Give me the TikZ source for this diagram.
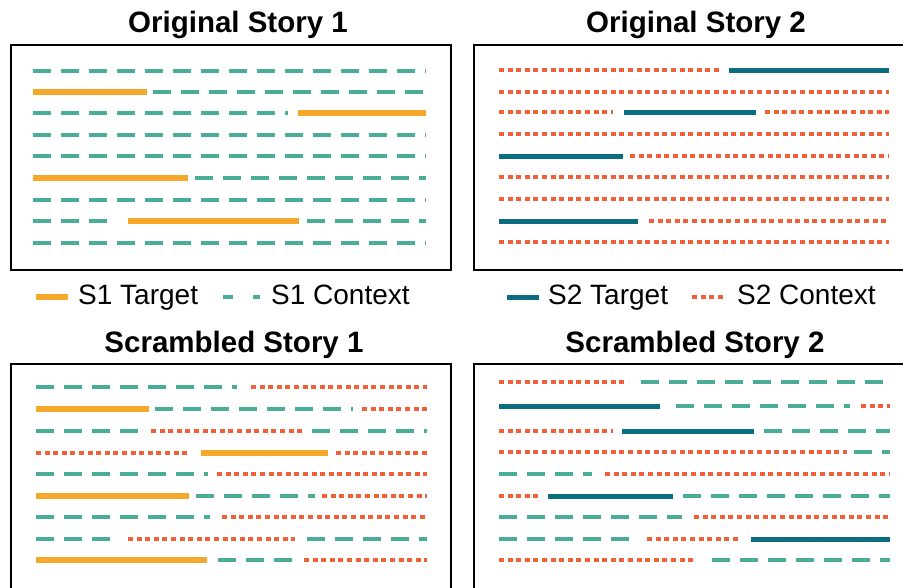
\documentclass[tikz,border=0pt]{standalone}
\usepackage{fontspec}
\setmainfont{Liberation Sans}
\definecolor{tgtone}{HTML}{F5A82A}
\definecolor{ctxone}{HTML}{4AAD97}
\definecolor{tgttwo}{HTML}{0B6E80}
\definecolor{ctxtwo}{HTML}{F2603A}
\begin{document}
\begin{tikzpicture}[x=1pt,y=-1pt,
  ttl/.style={font=\fontsize{29.5}{33}\selectfont\bfseries, anchor=base, inner sep=0pt},
  lgd/.style={font=\fontsize{28}{31}\selectfont, anchor=base west, inner sep=0pt},
  panel/.style={draw, line width=2pt},
  s1tgt/.style={tgtone, line width=5.5pt},
  s1ctx/.style={ctxone, line width=4.5pt, dash pattern=on 18pt off 10pt},
  s2tgt/.style={tgttwo, line width=5pt},
  s2ctx/.style={ctxtwo, line width=4pt, dash pattern=on 5pt off 3.6pt}]
 \useasboundingbox (0,0) rectangle (903,587);
 % titles
 \node[ttl] (os1) at (238,32) {Original Story 1};
 \node[ttl] (os2) at (696,32) {Original Story 2};
 \node[ttl] (ss1) at (234,352) {Scrambled Story 1};
 \node[ttl] (ss2) at (695,352) {Scrambled Story 2};
 % frames
 \draw[panel] (11,45) rectangle (451,270);
 \draw[panel] (474,45) rectangle (906,270);
 \draw[panel] (11,364) rectangle (451,600);
 \draw[panel] (474,364) rectangle (906,600);
 % legend
 \draw[s1tgt] (36,297) -- (68,297);
 \node[lgd] (l1) at (78,304) {S1 Target};
 \draw[s1ctx, dash pattern=on 10pt off 20pt] (223,297) -- (260,297);
 \node[lgd] (l2) at (271,304) {S1 Context};
 \draw[s2tgt] (507,297) -- (539,297);
 \node[lgd] (l3) at (548,304) {S2 Target};
 \draw[s2ctx] (692,297) -- (726,297);
 \node[lgd] (l4) at (737,304) {S2 Context};
 % original story 1
 \draw[s1ctx] (33,71) -- (426,71) (153,92) -- (426,92) (33,113) -- (288,113)
   (33,135) -- (426,135) (33,156) -- (426,156) (195,178) -- (426,178)
   (33,200) -- (426,200) (33,221) -- (117,221) (307,221) -- (426,221)
   (33,243) -- (426,243);
 \draw[s1tgt] (33,92) -- (147,92) (298,113) -- (426,113) (33,178) -- (188,178)
   (128,221) -- (299,221);
 % original story 2
 \draw[s2ctx] (499,70) -- (722,70) (499,92) -- (889,92) (499,112) -- (613,112)
   (765,112) -- (889,112) (499,134) -- (889,134) (630,156) -- (889,156)
   (499,177) -- (889,177) (499,199) -- (889,199) (649,221) -- (889,221)
   (499,242) -- (889,242);
 \draw[s2tgt] (729,70) -- (889,70) (624,112) -- (756,112) (499,156) -- (623,156)
   (499,221) -- (638,221);
 % scrambled story 1
 \draw[s1ctx] (36,387) -- (237,387) (155,409) -- (353,409) (36,431) -- (140,431)
   (312,431) -- (427,431) (36,474) -- (208,474) (196,496) -- (315,496)
   (36,517) -- (210,517) (36,539) -- (118,539) (307,539) -- (427,539)
   (218,560) -- (296,560);
 \draw[s2ctx] (251,387) -- (427,387) (362,409) -- (427,409) (151,431) -- (303,431)
   (36,453) -- (189,453) (336,453) -- (427,453) (217,474) -- (427,474)
   (322,496) -- (427,496) (222,517) -- (427,517) (128,539) -- (295,539)
   (304,560) -- (427,560);
 \draw[s1tgt] (36,409) -- (149,409) (201,453) -- (328,453) (36,496) -- (189,496)
   (36,560) -- (207,560);
 % scrambled story 2
 \draw[s1ctx] (641,382) -- (890,382) (676,406) -- (850,406) (764,431) -- (890,431)
   (854,452) -- (890,452) (499,474) -- (592,474) (683,496) -- (890,496)
   (499,517) -- (682,517) (499,539) -- (632,539) (712,560) -- (890,560);
 \draw[s2ctx] (499,382) -- (628,382) (861,406) -- (890,406) (499,431) -- (613,431)
   (499,452) -- (847,452) (605,474) -- (890,474) (499,496) -- (538,496)
   (694,517) -- (890,517) (647,539) -- (739,539) (499,560) -- (696,560);
 \draw[s2tgt] (499,406) -- (660,406) (622,431) -- (754,431) (548,496) -- (673,496)
   (751,539) -- (890,539);
\end{tikzpicture}
\end{document}
